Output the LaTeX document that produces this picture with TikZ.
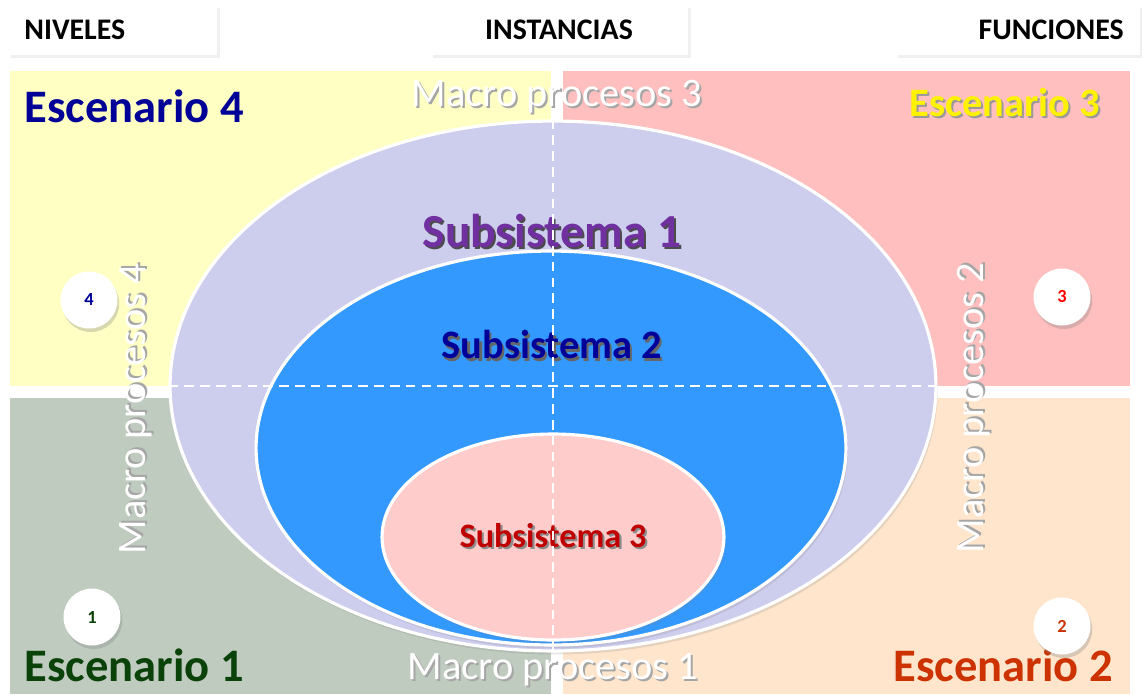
\documentclass[tikz,border=0pt]{standalone}
\usepackage{fontspec}
\setmainfont{Carlito}
\usetikzlibrary{shapes.geometric,shadows}
\definecolor{quadyel}{HTML}{FFFFC4}
\definecolor{quadpink}{HTML}{FFBFBF}
\definecolor{quadgreen}{HTML}{BFCBBF}
\definecolor{quadpeach}{HTML}{FFE5CC}
\definecolor{lavender}{HTML}{CDCDEE}
\definecolor{subblue}{HTML}{3399FF}
\definecolor{subpink}{HTML}{FFCCCC}
\definecolor{navy}{HTML}{000099}
\definecolor{purp}{HTML}{7030A0}
\definecolor{darkred}{HTML}{C00000}
\definecolor{darkgreen}{HTML}{0A420A}
\definecolor{rust}{HTML}{CC3300}
\newcommand\shtxt[2]{\makebox[0pt][l]{\kern1.2pt\raisebox{-1.2pt}{\color{#1}#2}}#2}
\newcommand\fsz[1]{\fontsize{#1}{#1}\selectfont}
\begin{document}
\begin{tikzpicture}[x=0.02cm, y=-0.02cm]
  \tikzstyle{head}=[fill=white, minimum height=1cm, inner xsep=0.32cm, font=\bfseries\fsz{17},
    drop shadow={shadow xshift=1.5pt, shadow yshift=-1.5pt, opacity=.12}]
  \tikzstyle{scen}=[inner sep=0pt, font=\bfseries\fsz{26.5}]
  \tikzstyle{macro}=[inner sep=0pt, text=white, font=\fsz{23}]
  \tikzstyle{sub}=[ellipse, draw=white, line width=1.8pt, inner sep=0pt,
    drop shadow={shadow xshift=1pt, shadow yshift=-2pt, opacity=.2}]
  \tikzstyle{num}=[circle, fill=white, minimum size=1.14cm, inner sep=0pt, font=\bfseries\fsz{10.5},
    drop shadow={shadow xshift=1pt, shadow yshift=-2pt, opacity=.3}]
  \tikzstyle{axis}=[white, line width=1.1pt, dash pattern=on 5.5pt off 3.5pt]

  \useasboundingbox (0,0) rectangle (1145,694);
  \fill[quadyel]   (10,71)   rectangle (551,386);
  \fill[quadpink]  (563,71)  rectangle (1130,386);
  \fill[quadgreen] (10,398)  rectangle (551,694);
  \fill[quadpeach] (563,398) rectangle (1130,694);

  \node[head, anchor=west, text width=3.54cm, align=left]  (niv)  at (8,30)    {NIVELES};
  \node[head, text width=4.52cm, align=center]             (inst) at (559,30)  {INSTANCIAS};
  \node[head, anchor=east, text width=4.25cm, align=right] (func) at (1140,30) {FUNCIONES};

  \node[sub, fill=lavender, minimum width=15.32cm, minimum height=10.6cm] (sub1) at (553,386) {};
  \node[sub, fill=subblue,  minimum width=11.8cm,  minimum height=7.88cm] (sub2) at (551,448) {};
  \node[sub, fill=subpink,  minimum width=6.84cm,  minimum height=4.12cm, text=darkred,
    font=\bfseries\fsz{19.5}] (sub3) at (553,537) {\shtxt{black!45}{Subsistema 3}};

  \node[inner sep=0pt, text=purp, font=\bfseries\fsz{27}] (lab1) at (552,232) {\shtxt{black!70}{Subsistema 1}};
  \node[inner sep=0pt, text=navy, font=\bfseries\fsz{23}] (lab2) at (552,346) {\shtxt{black!60}{Subsistema 2}};

  \path[axis] (sub1.north) edge (sub1.south);
  \path[axis] (sub1.west)  edge (sub1.east);

  \node[scen, anchor=base west, text=navy]      (esc4) at (24,122)   {Escenario 4};
  \node[scen, anchor=base east, text=yellow, font=\bfseries\fsz{23}]
                                                (esc3) at (1100,116) {\shtxt{black!40}{Escenario 3}};
  \node[scen, anchor=base west, text=darkgreen] (esc1) at (24,681)   {Escenario 1};
  \node[scen, anchor=base east, text=rust]      (esc2) at (1113,681) {Escenario 2};

  \node[macro, anchor=base]   (mp3) at (557,106) {\shtxt{black!35}{Macro procesos 3}};
  \node[macro, anchor=base]   (mp1) at (553,679) {\shtxt{black!35}{Macro procesos 1}};
  \node[macro, rotate=90]     (mp4) at (137,409) {\shtxt{black!35}{Macro procesos 4}};
  \node[macro, rotate=90]     (mp2) at (975,408) {\shtxt{black!35}{Macro procesos 2}};

  \node[num, text=navy]      (n4) at (89,300)   {4};
  \node[num, text=red]       (n3) at (1062,297) {3};
  \node[num, text=darkgreen] (n1) at (92,617)   {1};
  \node[num, text=rust]      (n2) at (1062,626) {2};
\end{tikzpicture}
\end{document}
